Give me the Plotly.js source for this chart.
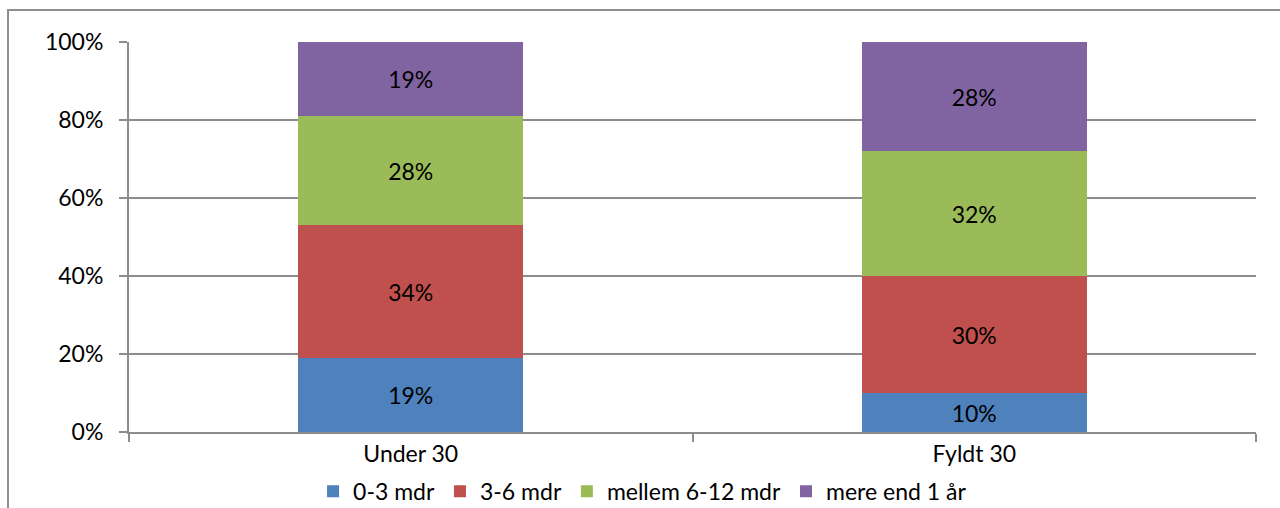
<!DOCTYPE html>
<html>
<head>
<meta charset="utf-8">
<script src="https://cdn.plot.ly/plotly-3.0.1.min.js"></script>
<style>
  html, body { margin: 0; padding: 0; background: #ffffff; }
  #wrap { position: relative; width: 1280px; height: 508px; overflow: hidden; }
  #chart { position: absolute; left: 0; top: 0; width: 1280px; height: 508px; }
  #frame {
    position: absolute; left: 7px; top: 9px; width: 1400px; height: 600px;
    border-left: 2px solid #8e8e8e; border-top: 2px solid #8e8e8e;
    pointer-events: none;
  }
</style>
</head>
<body>
<div id="wrap">
  <div id="chart"></div>
  <div id="frame"></div>
</div>
<script>
// Age groups on the x axis
const categories = ['Under 30', 'Fyldt 30'];

// Duration bands (legend entries), shares in percent per age group
const seriesNames = ['0-3 mdr', '3-6 mdr', 'mellem 6-12 mdr', 'mere end 1 år'];
const share0to3 = [19, 10];
const share3to6 = [34, 30];
const share6to12 = [28, 32];
const shareOver1y = [19, 28];

const seriesColors = ['#4f81bd', '#c0504d', '#9bbb59', '#8064a2'];
const seriesValues = [share0to3, share3to6, share6to12, shareOver1y];

const yTickValues = [0, 20, 40, 60, 80, 100];

const FONT = 'Lato, "Open Sans", sans-serif';
const FONT_SIZE = 23;
const gridColor = '#8c8c8c';

const traces = seriesNames.map((name, i) => ({
  type: 'bar',
  name: name,
  x: categories,
  y: seriesValues[i],
  marker: { color: seriesColors[i], line: { width: 0 } },
  text: seriesValues[i].map(v => v + '%'),
  textposition: 'inside',
  insidetextanchor: 'middle',
  textangle: 0,
  textfont: { family: FONT, size: FONT_SIZE, color: '#000000' },
  hoverinfo: 'x+y+name'
}));

const layout = {
  width: 1280,
  height: 508,
  margin: { l: 129, r: 24, t: 42, b: 76, autoexpand: false },
  paper_bgcolor: '#ffffff',
  plot_bgcolor: '#ffffff',
  barmode: 'stack',
  bargap: 0.6,
  font: { family: FONT, size: FONT_SIZE, color: '#000000' },
  showlegend: true,
  legend: {
    orientation: 'h',
    xref: 'container', x: 0.502, xanchor: 'center',
    yref: 'container', y: 0.033, yanchor: 'middle',
    font: { family: FONT, size: FONT_SIZE, color: '#000000' },
    itemwidth: 30,
    traceorder: 'normal',
    bgcolor: 'rgba(0,0,0,0)'
  },
  xaxis: {
    type: 'category',
    tickson: 'boundaries',
    ticks: 'outside',
    ticklen: 8,
    tickwidth: 2,
    tickcolor: gridColor,
    showline: true,
    linecolor: gridColor,
    linewidth: 2,
    showgrid: false,
    zeroline: false,
    automargin: false,
    tickfont: { family: FONT, size: FONT_SIZE, color: '#000000' }
  },
  yaxis: {
    range: [0, 100],
    tickvals: yTickValues,
    ticktext: yTickValues.map(v => v + '%'),
    ticks: 'outside',
    ticklen: 8,
    tickwidth: 2,
    tickcolor: gridColor,
    ticklabelstandoff: 11,
    showline: true,
    linecolor: gridColor,
    linewidth: 2,
    showgrid: true,
    gridcolor: gridColor,
    gridwidth: 2,
    zeroline: false,
    automargin: false,
    tickfont: { family: FONT, size: FONT_SIZE, color: '#000000' }
  }
};

Plotly.newPlot('chart', traces, layout, { displayModeBar: false, staticPlot: true });
</script>
</body>
</html>
